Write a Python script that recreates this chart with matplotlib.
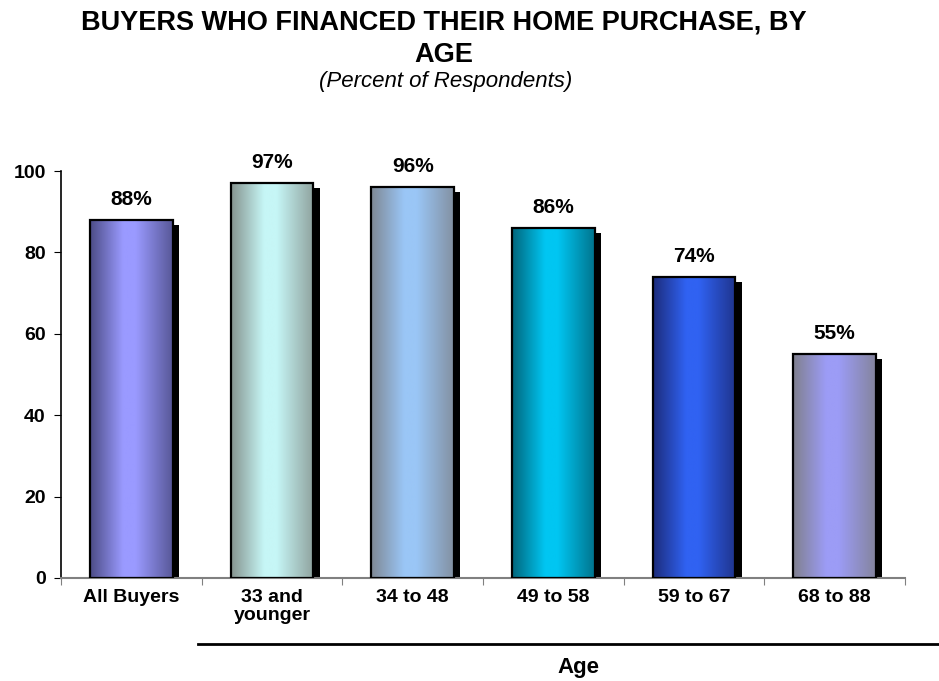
import numpy as np
import matplotlib
matplotlib.use("Agg")
import matplotlib.pyplot as plt
import matplotlib.transforms as mtransforms
from matplotlib.colors import LinearSegmentedColormap
from matplotlib.lines import Line2D

plt.rcParams['font.family'] = ['Liberation Sans', 'DejaVu Sans']

# datos
categorias = ["All Buyers", "33 and\nyounger", "34 to 48", "49 to 58", "59 to 67", "68 to 88"]
valores = [88, 97, 96, 86, 74, 55]
etiquetas = [f"{v}%" for v in valores]
# (borde, centro) de cada degradado
colores = [("#4c4c86", "#9a9aff"),
           ("#86948f", "#c6f6f6"),
           ("#7f8894", "#9ac6f6"),
           ("#00667c", "#00c6f2"),
           ("#1c2c7c", "#3062f2"),
           ("#80808e", "#9c9cf6")]

fig = plt.figure(figsize=(9.39, 6.81), dpi=100)
ax = fig.add_axes([61/939, 103/681, 844/939, 407/681])

ancho = 0.59
x = np.arange(len(valores)) + 0.5

# sombra
sombra = mtransforms.offset_copy(ax.transData, fig=fig, x=4.5, y=-3.5, units='points')
ax.bar(x, valores, width=ancho, color='black', transform=sombra, zorder=1)

grad = np.linspace(0, 1, 200)
perfil = np.interp(grad, [0, 0.4, 0.55, 1], [0, 1, 1, 0.15])
for xi, v, (c0, c1) in zip(x, valores, colores):
    cmap = LinearSegmentedColormap.from_list("g", [c0, c1])
    ax.imshow(perfil[np.newaxis, :], cmap=cmap, vmin=0, vmax=1, aspect='auto',
              extent=[xi - ancho/2, xi + ancho/2, 0, v], zorder=2, interpolation='bilinear')
ax.bar(x, valores, width=ancho, fill=False, edgecolor='black', linewidth=1.6, zorder=3)

for xi, v, t in zip(x, valores, etiquetas):
    ax.annotate(t, (xi, v), xytext=(0, 8), textcoords='offset points',
                ha='center', va='bottom', fontsize=15, fontweight='bold')

ax.set_xlim(0, len(valores))
ax.set_ylim(0, 100)
ax.set_yticks([0, 20, 40, 60, 80, 100])
ax.set_xticks(np.arange(len(valores) + 1))
ax.set_xticklabels([])
ax.set_xticks(x, minor=True)
ax.set_xticklabels(categorias, minor=True, fontsize=14, fontweight='bold', linespacing=1.1)
ax.tick_params(axis='x', which='minor', length=0, pad=8)
ax.tick_params(axis='x', which='major', length=5, color='#808080', direction='out')
ax.tick_params(axis='y', length=5, direction='out', pad=6)
for lab in ax.get_yticklabels():
    lab.set_fontweight('bold')
    lab.set_fontsize(14)

for s in ['top', 'right']:
    ax.spines[s].set_visible(False)
ax.spines['bottom'].set_color('#808080')
ax.spines['bottom'].set_linewidth(1.5)
ax.spines['left'].set_linewidth(1.2)

fig.text(444/939, 1 - 10/681, "BUYERS WHO FINANCED THEIR HOME PURCHASE, BY\nAGE",
         ha='center', va='top', fontsize=19.5, fontweight='bold', linespacing=1.3)
fig.text(446/939, 1 - 82/681, "(Percent of Respondents)", ha='center', va='center',
         fontsize=16, style='italic')

fig.add_artist(Line2D([198/939, 1.0], [1 - 644/681, 1 - 644/681], color='black', linewidth=2))
fig.text(578/939, 1 - 667/681, "Age", ha='center', va='center', fontsize=16, fontweight='bold')

fig.savefig("out.png", dpi=100)
